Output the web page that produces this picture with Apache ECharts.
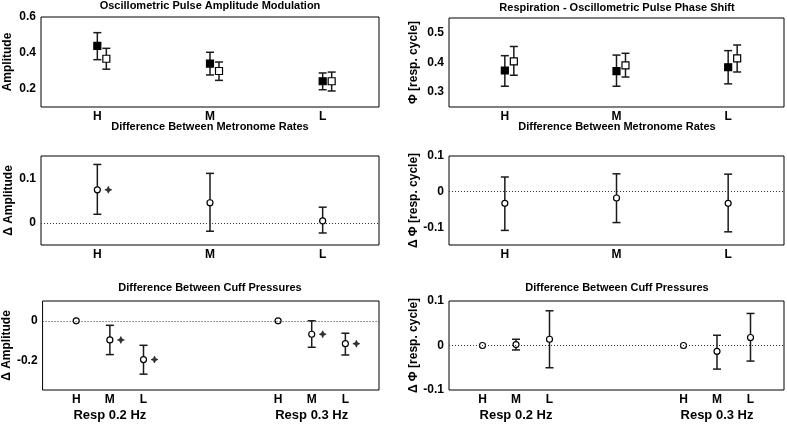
<!DOCTYPE html>
<html><head><meta charset="utf-8">
<script src="https://cdn.jsdelivr.net/npm/echarts@6/dist/echarts.min.js"></script>
<style>html,body{margin:0;padding:0;background:#fff}#c{width:787px;height:424px}</style>
</head><body><div id="c"></div>
<script>
// ---------- data ----------
const categories = ['H', 'M', 'L'];
const groups = ['Resp 0.2 Hz', 'Resp 0.3 Hz'];

// Panel 1: Oscillometric Pulse Amplitude Modulation
const ampFilled    = [0.440, 0.341, 0.243];
const ampFilledLo  = [0.363, 0.278, 0.196];
const ampFilledHi  = [0.513, 0.404, 0.289];
const ampOpen      = [0.368, 0.300, 0.243];
const ampOpenLo    = [0.310, 0.248, 0.189];
const ampOpenHi    = [0.426, 0.350, 0.294];
const ampTicks     = [0.2, 0.4, 0.6];

// Panel 2: Respiration - Oscillometric Pulse Phase Shift
const phFilled     = [0.373, 0.371, 0.384];
const phFilledLo   = [0.320, 0.320, 0.328];
const phFilledHi   = [0.423, 0.425, 0.440];
const phOpen       = [0.404, 0.390, 0.414];
const phOpenLo     = [0.357, 0.351, 0.368];
const phOpenHi     = [0.454, 0.431, 0.459];
const phTicks      = [0.3, 0.4, 0.5];

// Panel 3: Δ Amplitude, metronome rates
const dAmpRate     = [0.074, 0.045, 0.004];
const dAmpRateLo   = [0.019, -0.019, -0.023];
const dAmpRateHi   = [0.131, 0.111, 0.035];
const dAmpRateSig  = [true, false, false];
const dAmpRateTicks = [0, 0.1];

// Panel 4: Δ Φ, metronome rates
const dPhRate      = [-0.033, -0.018, -0.033];
const dPhRateLo    = [-0.109, -0.087, -0.113];
const dPhRateHi    = [0.041, 0.050, 0.049];
const dPhRateSig   = [false, false, false];
const dPhRateTicks = [-0.1, 0, 0.1];

// Panel 5: Δ Amplitude, cuff pressures (H,M,L for Resp 0.2 Hz then Resp 0.3 Hz)
const dAmpCuff     = [0, -0.097, -0.196, 0, -0.068, -0.116];
const dAmpCuffLo   = [null, -0.171, -0.270, null, -0.134, -0.173];
const dAmpCuffHi   = [null, -0.023, -0.124, null, 0.000, -0.063];
const dAmpCuffSig  = [false, true, true, false, true, true];
const dAmpCuffTicks = [-0.2, 0];

// Panel 6: Δ Φ, cuff pressures
const dPhCuff      = [0, 0.002, 0.014, 0, -0.013, 0.018];
const dPhCuffLo    = [null, -0.010, -0.050, null, -0.053, -0.035];
const dPhCuffHi    = [null, 0.014, 0.078, null, 0.023, 0.072];
const dPhCuffSig   = [false, false, false, false, false, false];
const dPhCuffTicks = [-0.1, 0, 0.1];

// ---------- helpers ----------
const FONT = '"Liberation Sans", Arial, Helvetica, sans-serif';
const catX = i => i + 0.5;                         // single-group panels, axis 0..3
const grpX = k => Math.floor(k / 3) * 6 + (k % 3) + 1;  // two-group panels, axis 0..10

function catLabel(v) {
  const i = v - 0.5;
  return (Number.isInteger(i) && i >= 0 && i < categories.length) ? categories[i] : '';
}
function grpCatLabel(v) {
  for (let k = 0; k < groups.length * categories.length; k++) if (grpX(k) === v) return categories[k % 3];
  return '';
}
function grpLabel(v) {
  for (let g = 0; g < groups.length; g++) if (g * 6 + 2 === v) return groups[g];
  return '';
}
function tickFmt(ticks) {
  return v => { const t = ticks.find(t => Math.abs(t - v) < 1e-6); return t === undefined ? '' : String(t); };
}
function errRender(dx) {
  return function (params, api) {
    const x = api.value(0), lo = api.value(1), hi = api.value(2);
    const a = api.coord([x, lo]), b = api.coord([x, hi]);
    const cx = a[0] + dx, w = 4;
    const st = { stroke: '#1a1a1a', lineWidth: 1.5 };
    return { type: 'group', children: [
      { type: 'line', shape: { x1: cx, y1: a[1], x2: cx, y2: b[1] }, style: st },
      { type: 'line', shape: { x1: cx - w, y1: a[1], x2: cx + w, y2: a[1] }, style: st },
      { type: 'line', shape: { x1: cx - w, y1: b[1], x2: cx + w, y2: b[1] }, style: st }
    ]};
  };
}
const STAR = 'path://M5,0 L6.6,3.4 L10,5 L6.6,6.6 L5,10 L3.4,6.6 L0,5 L3.4,3.4 Z';

const grids = [
  { left: 41,  top: 17,  width: 338, height: 90 },
  { left: 449, top: 18,  width: 337, height: 89 },
  { left: 41,  top: 156, width: 338, height: 89 },
  { left: 449, top: 156, width: 337, height: 89 },
  { left: 41,  top: 301, width: 338, height: 89 },
  { left: 449, top: 301, width: 337, height: 89 }
];

const labelStyle = { color: '#000', fontFamily: FONT, fontWeight: 'bold' };
function xCat(gi) {
  return { gridIndex: gi, type: 'value', min: 0, max: 3, interval: 0.5,
    axisLine: { show: false }, axisTick: { show: false }, splitLine: { show: false },
    axisLabel: Object.assign({ margin: 4, fontSize: 12, formatter: catLabel, showMinLabel: true, showMaxLabel: true }, labelStyle) };
}
function xGrp(gi) {
  return { gridIndex: gi, type: 'value', min: 0, max: 10, interval: 1, position: 'bottom', offset: 0,
    axisLine: { show: false }, axisTick: { show: false }, splitLine: { show: false },
    axisLabel: Object.assign({ margin: 4, fontSize: 12, formatter: grpCatLabel }, labelStyle) };
}
function xGrpName(gi) {
  return { gridIndex: gi, type: 'value', min: 0, max: 10, interval: 1, position: 'bottom', offset: 0,
    axisLine: { show: false }, axisTick: { show: false }, splitLine: { show: false },
    axisLabel: Object.assign({ margin: 19, fontSize: 13, formatter: grpLabel }, labelStyle) };
}
function yAx(gi, min, max, ticks, name, gap) {
  return { gridIndex: gi, type: 'value', min: min, max: max, interval: 0.05,
    axisLine: { show: false }, axisTick: { show: false }, splitLine: { show: false },
    axisLabel: Object.assign({ margin: 5, fontSize: 12, formatter: tickFmt(ticks), showMinLabel: true, showMaxLabel: true }, labelStyle),
    name: name, nameLocation: 'middle', nameRotate: 90, nameGap: gap,
    nameTextStyle: Object.assign({ fontSize: 12 }, labelStyle) };
}

const series = [];
function errSeries(ai, xs, lo, hi, dx) {
  const d = [];
  xs.forEach((x, i) => { if (lo[i] != null && hi[i] != null) d.push([x, lo[i], hi[i]]); });
  series.push({ type: 'custom', xAxisIndex: ai, yAxisIndex: ai, renderItem: errRender(dx), data: d, z: 2, silent: true });
}
function pointSeries(ai, xs, vals, symbol, filled, dx, zeroLine) {
  const s = { type: 'scatter', xAxisIndex: ai, yAxisIndex: ai, symbol: symbol,
    symbolSize: symbol === 'rect' ? 7 : 6, symbolOffset: [dx, 0], z: 4, silent: true,
    itemStyle: { color: filled ? '#000' : '#fff', borderColor: '#000', borderWidth: 1.2, opacity: 1 },
    data: xs.map((x, i) => [x, vals[i]]) };
  if (zeroLine) s.markLine = { silent: true, symbol: ['none', 'none'], label: { show: false },
    lineStyle: { type: [1, 2], color: '#333', width: 1 }, data: [{ yAxis: 0 }] };
  series.push(s);
}
function sigSeries(ai, xs, vals, sig) {
  const d = [];
  xs.forEach((x, i) => { if (sig[i]) d.push([x, vals[i]]); });
  series.push({ type: 'scatter', xAxisIndex: ai, yAxisIndex: ai, symbol: STAR, symbolSize: 7,
    symbolOffset: [11, 0], z: 4, silent: true,
    itemStyle: { color: '#000', borderColor: '#000', borderWidth: 0.6 }, data: d });
}

const xs3 = categories.map((c, i) => catX(i));
const xs6 = dAmpCuff.map((v, k) => grpX(k));

// panel 1
errSeries(0, xs3, ampFilledLo, ampFilledHi, 0);
errSeries(0, xs3, ampOpenLo, ampOpenHi, 9);
pointSeries(0, xs3, ampFilled, 'rect', true, 0, false);
pointSeries(0, xs3, ampOpen, 'rect', false, 9, false);
// panel 2
errSeries(1, xs3, phFilledLo, phFilledHi, 0);
errSeries(1, xs3, phOpenLo, phOpenHi, 9);
pointSeries(1, xs3, phFilled, 'rect', true, 0, false);
pointSeries(1, xs3, phOpen, 'rect', false, 9, false);
// panel 3
errSeries(2, xs3, dAmpRateLo, dAmpRateHi, 0);
pointSeries(2, xs3, dAmpRate, 'circle', false, 0, true);
sigSeries(2, xs3, dAmpRate, dAmpRateSig);
// panel 4
errSeries(3, xs3, dPhRateLo, dPhRateHi, 0);
pointSeries(3, xs3, dPhRate, 'circle', false, 0, true);
sigSeries(3, xs3, dPhRate, dPhRateSig);
// panel 5
errSeries(4, xs6, dAmpCuffLo, dAmpCuffHi, 0);
pointSeries(4, xs6, dAmpCuff, 'circle', false, 0, true);
sigSeries(4, xs6, dAmpCuff, dAmpCuffSig);
// panel 6
errSeries(5, xs6, dPhCuffLo, dPhCuffHi, 0);
pointSeries(5, xs6, dPhCuff, 'circle', false, 0, true);
sigSeries(5, xs6, dPhCuff, dPhCuffSig);

function titleText(text, x, y) {
  return { type: 'text', x: x, y: y, silent: true,
    style: { text: text, align: 'center', verticalAlign: 'middle', textAlign: 'center', textVerticalAlign: 'middle',
      fill: '#000', fontSize: 11, fontWeight: 'bold', fontFamily: FONT } };
}

const chart = echarts.init(document.getElementById('c'), null, { renderer: 'canvas' });
chart.setOption({
  animation: false,
  backgroundColor: '#fff',
  grid: grids.map(g => Object.assign({ show: true, borderColor: '#000', borderWidth: 1, backgroundColor: 'transparent' }, g)),
  xAxis: [xCat(0), xCat(1), xCat(2), xCat(3), xGrp(4), xGrp(5), xGrpName(4), xGrpName(5)],
  yAxis: [
    yAx(0, 0.1, 0.6, ampTicks, 'Amplitude', 27),
    yAx(1, 0.25, 0.55, phTicks, 'Φ [resp. cycle]', 29),
    yAx(2, -0.05, 0.15, dAmpRateTicks, 'Δ Amplitude', 26),
    yAx(3, -0.15, 0.1, dPhRateTicks, 'Δ Φ [resp. cycle]', 29),
    yAx(4, -0.35, 0.1, dAmpCuffTicks, 'Δ Amplitude', 26),
    yAx(5, -0.1, 0.1, dPhCuffTicks, 'Δ Φ [resp. cycle]', 29)
  ],
  graphic: [
    titleText('Oscillometric Pulse Amplitude Modulation', 210, 6),
    titleText('Respiration - Oscillometric Pulse Phase Shift', 617, 8),
    titleText('Difference Between Metronome Rates', 210, 127),
    titleText('Difference Between Metronome Rates', 617, 127),
    titleText('Difference Between Cuff Pressures', 210, 288),
    titleText('Difference Between Cuff Pressures', 617, 288)
  ],
  series: series
});
</script>
</body></html>
